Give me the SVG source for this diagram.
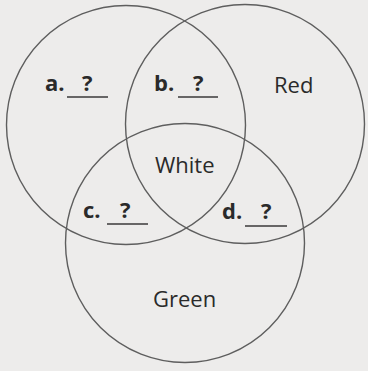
<svg xmlns="http://www.w3.org/2000/svg" width="368" height="371" viewBox="0 0 368 371">
<style>
.c{fill:none;stroke:#5e5e5e;stroke-width:1.4}
.t{font-family:"Open Sans","Noto Sans",sans-serif;font-size:22px;fill:#2a2a2a}
.b{font-weight:bold}
.u{stroke:#3a3a3a;stroke-width:1.4}
</style>
<rect width="368" height="371" fill="#edeceb"/>
<g id="circle-left"><circle class="c" cx="126" cy="125" r="119.5"/></g>
<g id="circle-red"><circle class="c" cx="245" cy="124" r="119.5"/><text class="t" x="274" y="93">Red</text></g>
<g id="circle-green"><circle class="c" cx="185" cy="243" r="119.5"/><text class="t" x="153" y="307">Green</text></g>
<g id="label-white"><text class="t" x="155" y="173">White</text></g>
<g id="label-a"><text class="t b" x="45" y="91">a.</text><text class="t b" x="82" y="91">?</text><line class="u" x1="67" y1="97" x2="108" y2="97"/></g>
<g id="label-b"><text class="t b" x="154" y="91">b.</text><text class="t b" x="193" y="91">?</text><line class="u" x1="178" y1="97" x2="218" y2="97"/></g>
<g id="label-c"><text class="t b" x="83" y="218">c.</text><text class="t b" x="120" y="218">?</text><line class="u" x1="107" y1="224" x2="148" y2="224"/></g>
<g id="label-d"><text class="t b" x="222" y="219">d.</text><text class="t b" x="261" y="219">?</text><line class="u" x1="245" y1="226" x2="287" y2="226"/></g>
<g id="connectors"></g>
</svg>
